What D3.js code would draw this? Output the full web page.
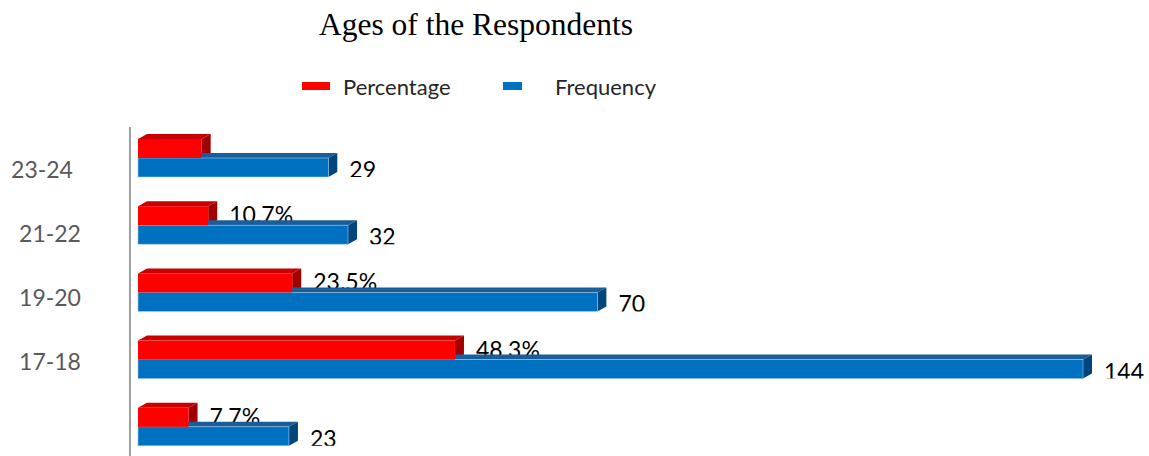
<!DOCTYPE html>
<html>
<head>
<meta charset="utf-8">
<script src="https://cdn.jsdelivr.net/npm/d3@7/dist/d3.min.js"></script>
<style>
  html, body { margin: 0; padding: 0; background: #fff; }
  svg { display: block; }
</style>
</head>
<body>
<svg id="chart" width="1149" height="456"></svg>
<script>
// Age groups, top to bottom
const categories = ["23-24", "21-22", "19-20", "17-18", "15-16"];
const tickLabels = ["23-24", "21-22", "19-20", "17-18", ""];
const frequency = [29, 32, 70, 144, 23];
const percentage = [9.7, 10.7, 23.5, 48.3, 7.7];
const percentageLabels = ["", "10.7%", "23.5%", "48.3%", "7.7%"];
const seriesNames = ["Percentage", "Frequency"];

const W = 1149, H = 456;
const svg = d3.select("#chart");
const sans = "Lato, 'Open Sans', sans-serif";

const colors = {
  Percentage: { front: "#ff0000", top: "#c80000", side: "#a00000" },
  Frequency: { front: "#0070c0", top: "#1b5d99", side: "#00457c" }
};
const depthX = 9, depthY = 5;

// Scales
const x = d3.scaleLinear().domain([0, 144]).range([138, 1083]);
const y = d3.scaleBand().domain(categories).range([139, 445.8])
  .paddingInner(0.4345).paddingOuter(0).align(0);
const ySeries = d3.scaleBand().domain(seriesNames).range([0, y.bandwidth()]).padding(0);
const yLabel = d3.scalePoint().domain(categories).range([170, 426]);

// Title
svg.append("text")
  .attr("x", 476).attr("y", 35)
  .attr("text-anchor", "middle")
  .attr("font-family", "'Liberation Serif', 'Times New Roman', serif")
  .attr("font-size", 31.5).attr("fill", "#000")
  .text("Ages of the Respondents");

// Legend
const legendItems = [
  { name: "Percentage", rx: 302, rw: 28, tx: 343 },
  { name: "Frequency", rx: 503, rw: 19, tx: 555 }
];
const lg = svg.append("g");
legendItems.forEach(d => {
  lg.append("rect").attr("x", d.rx).attr("y", 82).attr("width", d.rw).attr("height", 8)
    .attr("fill", colors[d.name].front);
  lg.append("text").attr("x", d.tx).attr("y", 87).attr("dy", "0.35em")
    .attr("font-family", sans).attr("font-size", 22).attr("fill", "#262626")
    .text(d.name);
});

// Vertical axis line
svg.append("line")
  .attr("x1", 130).attr("x2", 130).attr("y1", 127).attr("y2", H)
  .attr("stroke", "#a0a0a0").attr("stroke-width", 2);

// Category labels
svg.append("g").selectAll("text").data(categories).join("text")
  .attr("x", (d, i) => i === 0 ? 42 : 50)
  .attr("y", d => yLabel(d))
  .attr("dy", "0.35em")
  .attr("text-anchor", "middle")
  .attr("font-family", sans).attr("font-size", 23).attr("fill", "#595959")
  .text((d, i) => tickLabels[i]);

const defs = svg.append("defs");

function topFace(x0, x1, y0) {
  return `M${x0},${y0} L${x0 + depthX},${y0 - depthY} L${x1 + depthX},${y0 - depthY} L${x1},${y0} Z`;
}
function sideFace(x1, y0, h) {
  return `M${x1},${y0} L${x1 + depthX},${y0 - depthY} L${x1 + depthX},${y0 + h - depthY} L${x1},${y0 + h} Z`;
}

const bh = ySeries.bandwidth();
categories.forEach((c, i) => {
  const g = svg.append("g");
  const yr = y(c) + ySeries("Percentage");
  const yb = y(c) + ySeries("Frequency");
  const xr = x(percentage[i]);
  const xb = x(frequency[i]);
  const x0 = x(0);

  // Percentage bar: top and side faces
  g.append("path").attr("d", topFace(x0, xr, yr)).attr("fill", colors.Percentage.top);
  g.append("path").attr("d", sideFace(xr, yr, bh)).attr("fill", colors.Percentage.side);

  // Percentage value label (its lower part sits behind the frequency bar)
  g.append("text")
    .attr("x", xr + depthX + 12).attr("y", yr + 17)
    .attr("font-family", sans).attr("font-size", 23).attr("fill", "#000")
    .text(percentageLabels[i]);

  // Frequency bar
  g.append("path").attr("d", topFace(x0, xb, yb)).attr("fill", colors.Frequency.top);
  g.append("path").attr("d", sideFace(xb, yb, bh)).attr("fill", colors.Frequency.side);
  g.append("rect").attr("x", x0).attr("y", yb).attr("width", xb - x0).attr("height", bh)
    .attr("fill", colors.Frequency.front)
    .attr("stroke", "#9cc9ec").attr("stroke-width", 0.6);

  // Percentage bar front face
  g.append("rect").attr("x", x0).attr("y", yr).attr("width", xr - x0).attr("height", bh)
    .attr("fill", colors.Percentage.front);

  // Frequency value label, clipped at the bar's lower edge
  const cid = "fclip" + i;
  defs.append("clipPath").attr("id", cid)
    .append("rect").attr("x", 0).attr("y", yb - 10).attr("width", W).attr("height", bh + 10);
  g.append("text")
    .attr("clip-path", `url(#${cid})`)
    .attr("x", xb + depthX + 12).attr("y", yb + 20)
    .attr("font-family", sans).attr("font-size", 23).attr("fill", "#000")
    .text(frequency[i]);
});
</script>
</body>
</html>
